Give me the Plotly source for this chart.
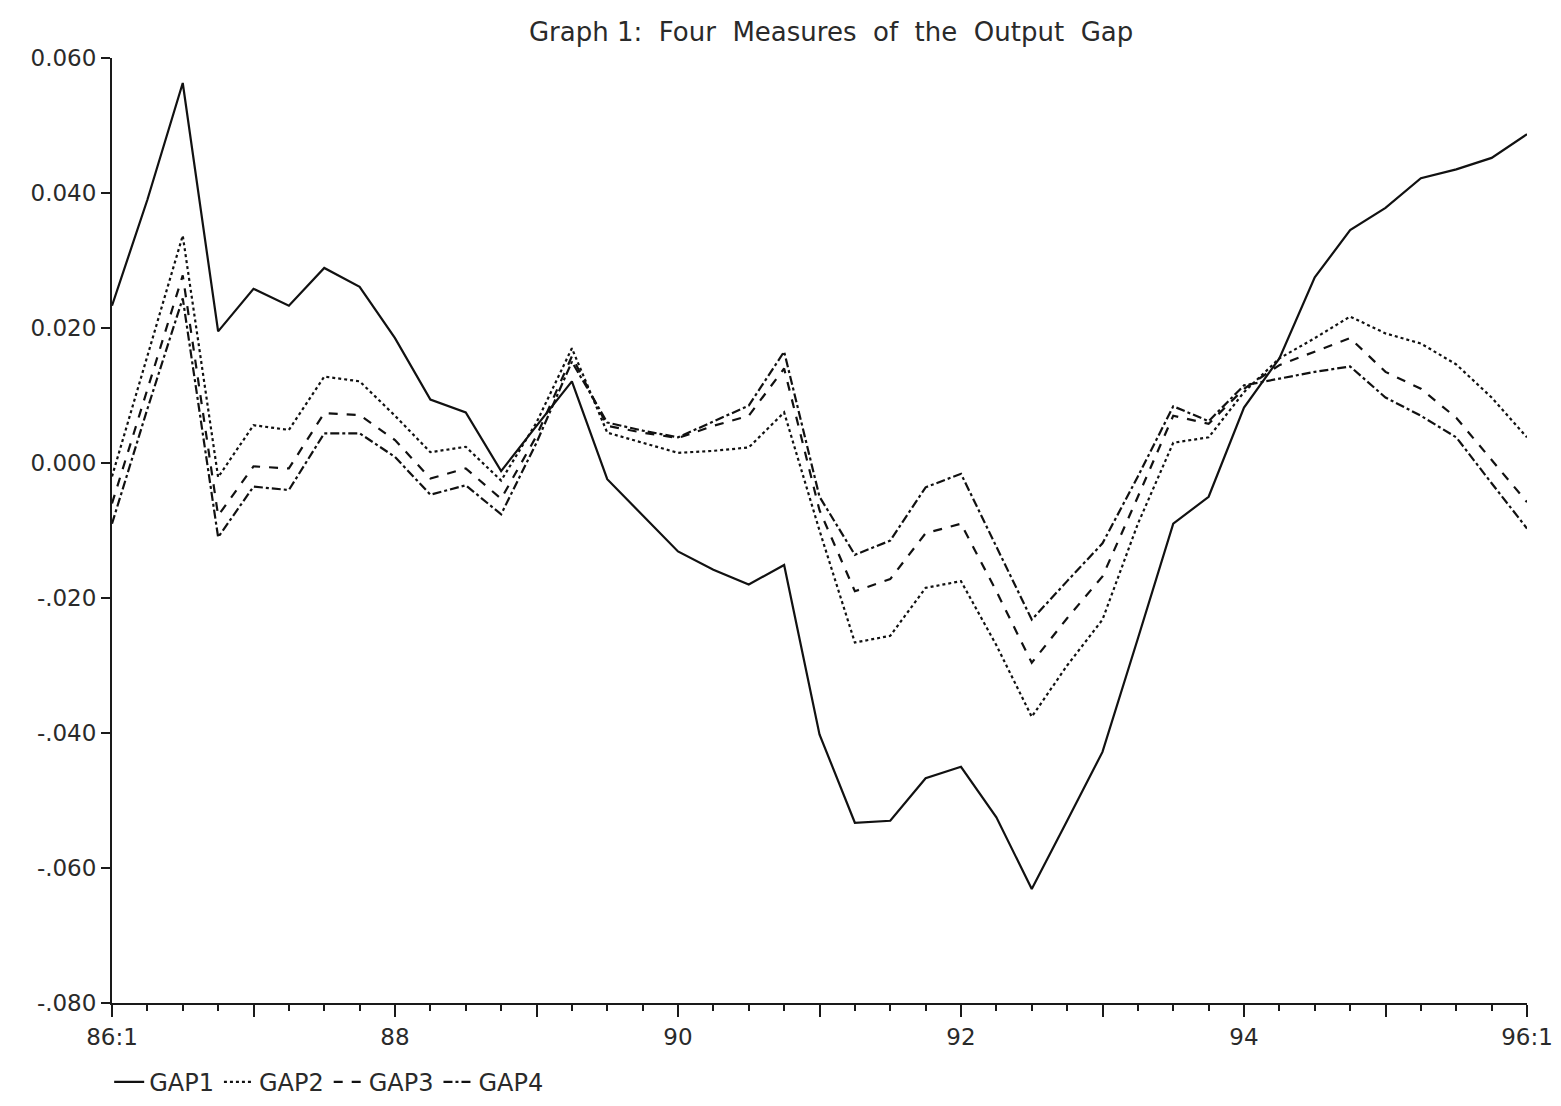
import plotly.graph_objects as go

quarters = [f"{y}:{q}" for y in range(86, 96) for q in range(1, 5)] + ["96:1"]

gap1 = [0.0233, 0.0390, 0.0563, 0.0195, 0.0258, 0.0233, 0.0289, 0.0261, 0.0185, 0.0094,
        0.0075, -0.0012, 0.0055, 0.0121, -0.0024, -0.0078, -0.0131, -0.0158, -0.0180, -0.0151,
        -0.0402, -0.0533, -0.0530, -0.0467, -0.0450, -0.0525, -0.0631, -0.0530, -0.0428, -0.0260,
        -0.0090, -0.0050, 0.0082, 0.0155, 0.0275, 0.0345, 0.0378, 0.0422, 0.0435, 0.0452, 0.0487]
gap2 = [-0.0020, 0.0160, 0.0337, -0.0021, 0.0056, 0.0049, 0.0128, 0.0121, 0.0070, 0.0016,
        0.0024, -0.0026, 0.0060, 0.0170, 0.0045, 0.0030, 0.0015, 0.0018, 0.0023, 0.0075,
        -0.0100, -0.0266, -0.0256, -0.0185, -0.0175, -0.0270, -0.0376, -0.0300, -0.0232, -0.0090,
        0.0030, 0.0038, 0.0105, 0.0155, 0.0185, 0.0217, 0.0192, 0.0177, 0.0146, 0.0097, 0.0038]
gap3 = [-0.0060, 0.0110, 0.0278, -0.0078, -0.0005, -0.0008, 0.0074, 0.0071, 0.0034, -0.0023,
        -0.0008, -0.0053, 0.0040, 0.0158, 0.0055, 0.0045, 0.0037, 0.0055, 0.0070, 0.0140,
        -0.0070, -0.0190, -0.0172, -0.0104, -0.0090, -0.0190, -0.0296, -0.0230, -0.0168, -0.0050,
        0.0070, 0.0058, 0.0110, 0.0145, 0.0165, 0.0185, 0.0135, 0.0110, 0.0067, 0.0005, -0.0058]
gap4 = [-0.0090, 0.0080, 0.0244, -0.0110, -0.0035, -0.0040, 0.0044, 0.0044, 0.0009, -0.0047,
        -0.0033, -0.0076, 0.0030, 0.0150, 0.0060, 0.0048, 0.0038, 0.0062, 0.0085, 0.0165,
        -0.0050, -0.0136, -0.0115, -0.0036, -0.0016, -0.0124, -0.0232, -0.0175, -0.0119, -0.0020,
        0.0084, 0.0062, 0.0115, 0.0125, 0.0135, 0.0143, 0.0097, 0.0070, 0.0038, -0.0030, -0.0097]

series = [("GAP1", gap1, "solid"), ("GAP2", gap2, "dot"), ("GAP3", gap3, "dash"), ("GAP4", gap4, "dashdot")]

x_tick_vals = [0, 4, 8, 12, 16, 20, 24, 28, 32, 36, 40]
x_tick_text = ["86:1", "", "88", "", "90", "", "92", "", "94", "", "96:1"]
y_tick_vals = [0.06, 0.04, 0.02, 0.0, -0.02, -0.04, -0.06, -0.08]
y_tick_text = ["0.060", "0.040", "0.020", "0.000", "-.020", "-.040", "-.060", "-.080"]

title_text = "Graph 1:\u00a0 Four\u00a0 Measures\u00a0 of\u00a0 the\u00a0 Output\u00a0 Gap"

xs = list(range(len(quarters)))

fig = go.Figure()
for name, vals, dash in series:
    fig.add_trace(go.Scatter(x=xs, y=vals, mode="lines", name=name,
                             line=dict(color="#111111", width=2.2, dash=dash),
                             text=quarters, hovertemplate="%{text}: %{y:.4f}<extra>" + name + "</extra>"))

fig.update_layout(
    width=1553, height=1098,
    margin=dict(l=104, r=34, t=50, b=103, autoexpand=False),
    paper_bgcolor="white", plot_bgcolor="white",
    font=dict(family="DejaVu Sans", color="#2a2a2a", size=22),
    title=dict(text=title_text, x=0.53, xanchor="center",
               y=0.978, yanchor="middle", font=dict(size=26, family="DejaVu Sans")),
    legend=dict(orientation="h", x=-0.002, xanchor="left", y=-0.06, yanchor="top",
                font=dict(size=24), itemwidth=30, tracegroupgap=0,
                bgcolor="rgba(0,0,0,0)"),
    showlegend=True,
)
fig.update_xaxes(range=[0, 40], tickvals=x_tick_vals, ticktext=x_tick_text,
                 ticks="outside", ticklen=12, tickwidth=2, tickcolor="#1a1a1a",
                 showline=True, linecolor="#1a1a1a", linewidth=2, showgrid=False, zeroline=False,
                 automargin=False,
                 minor=dict(dtick=1, tick0=0, ticks="outside", ticklen=6, tickwidth=2, tickcolor="#1a1a1a", showgrid=False),
                 tickfont=dict(size=23))
fig.update_yaxes(range=[-0.08, 0.06], tickvals=y_tick_vals, ticktext=y_tick_text,
                 ticks="outside", ticklen=9, tickwidth=2, tickcolor="#1a1a1a",
                 showline=True, linecolor="#1a1a1a", linewidth=2, showgrid=False, zeroline=False,
                 automargin=False,
                 tickfont=dict(size=23))

fig.write_html("out.html")
